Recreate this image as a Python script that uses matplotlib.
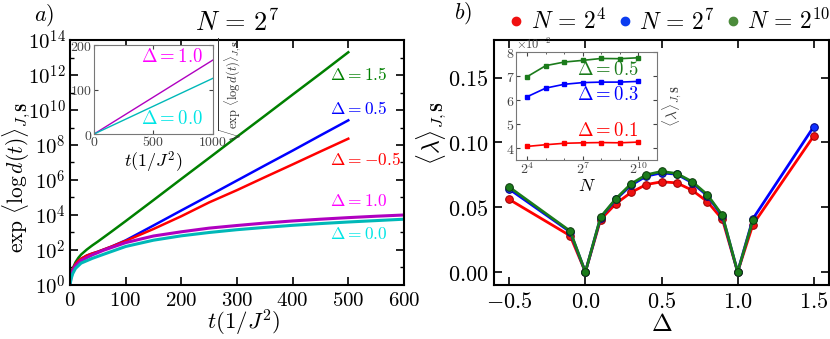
import numpy as np
import matplotlib
matplotlib.use("Agg")
import matplotlib.pyplot as plt
from matplotlib.ticker import FuncFormatter, FixedLocator
from matplotlib.lines import Line2D

plt.rcParams['mathtext.fontset'] = 'cm'
plt.rcParams['font.family'] = 'serif'
plt.rcParams['font.serif'] = ['DejaVu Serif']

# ---------------- panel a) : exp<log d(t)> , N = 2^7  (values are log10)
t_fast = [0, 2, 5, 10, 15, 20, 30, 40, 50, 75, 100, 150, 200, 250, 300, 350, 400, 450, 500]
logd_15 = [0, 0.55, 0.95, 1.3, 1.55, 1.74, 2.02, 2.26, 2.48, 3.06, 3.65, 4.85, 6.06, 7.26, 8.47, 9.67, 10.88, 12.08, 13.3]
logd_05 = [0, 0.5, 0.9, 1.2, 1.38, 1.5, 1.68, 1.8, 1.9, 2.2, 2.55, 3.4, 4.26, 5.11, 5.97, 6.83, 7.68, 8.55, 9.41]
logd_m05 = [0, 0.5, 0.9, 1.2, 1.38, 1.5, 1.68, 1.8, 1.9, 2.2, 2.52, 3.2, 3.93, 4.72, 5.42, 6.16, 6.89, 7.63, 8.36]

t_slow = [0, 2, 5, 10, 20, 40, 60, 100, 150, 200, 250, 300, 350, 400, 450, 500, 550, 600]
logd_10 = [0, 0.45, 0.8, 1.1, 1.4, 1.72, 1.98, 2.42, 2.8, 3.04, 3.25, 3.4, 3.54, 3.66, 3.76, 3.85, 3.93, 4.0]
logd_00 = [0, 0.35, 0.65, 0.95, 1.25, 1.52, 1.75, 2.2, 2.56, 2.81, 3.0, 3.16, 3.29, 3.41, 3.51, 3.6, 3.68, 3.76]

# inset a): sqrt(exp<log d>) vs t
t_inset = [0, 1000]
sq_10 = [0, 166]
sq_00 = [0, 125]

# ---------------- panel b) : <lambda> vs Delta
delta = [-0.5, -0.1, 0.0, 0.1, 0.2, 0.3, 0.4, 0.5, 0.6, 0.7, 0.8, 0.9, 1.0, 1.1, 1.5]
lam_n4 = [0.056, 0.028, 0.0, 0.0405, 0.0527, 0.0614, 0.0675, 0.0696, 0.0688, 0.0632, 0.0544, 0.0406, 0.0, 0.0365, 0.105]
lam_n7 = [0.064, 0.031, 0.0, 0.042, 0.056, 0.067, 0.074, 0.0765, 0.0755, 0.069, 0.059, 0.043, 0.0, 0.041, 0.1122]
lam_n10 = [0.0655, 0.0316, 0.0, 0.0424, 0.0565, 0.068, 0.075, 0.0776, 0.076, 0.0698, 0.0598, 0.0437, 0.0, 0.040]

# inset b): <lambda> vs N  (units of 1e-2)
N_inset = [2**4, 2**5, 2**6, 2**7, 2**8, 2**9, 2**10]
lamN_05 = [6.99, 7.45, 7.6, 7.67, 7.75, 7.74, 7.78]
lamN_03 = [6.15, 6.51, 6.67, 6.74, 6.76, 6.76, 6.79]
lamN_01 = [4.07, 4.14, 4.2, 4.22, 4.23, 4.22, 4.25]

purple = '#b000c0'
cyan = '#00b8b8'
dgreen = '#1b7b1b'

fig = plt.figure(figsize=(8.3, 3.39), dpi=100)

def mt(fmt):
    return FuncFormatter(lambda v, p: ('$' + fmt + '$') % v)

def style_main(ax, size):
    for s in ax.spines.values():
        s.set_linewidth(1.5)
    ax.tick_params(which='both', direction='in', top=True, right=True, labelsize=size, pad=4)
    ax.tick_params(which='major', length=6, width=1.2)
    ax.tick_params(which='minor', length=3, width=1.0)

# ---- a)
ax1 = fig.add_axes([0.0843, 0.1593, 0.4024, 0.7227])
ax1.plot(t_fast, 10**np.array(logd_15), color='green', lw=1.8)
ax1.plot(t_fast, 10**np.array(logd_05), color='blue', lw=1.8)
ax1.plot(t_fast, 10**np.array(logd_m05), color='red', lw=1.8)
ax1.plot(t_slow, 10**np.array(logd_10), color=purple, lw=2.2)
ax1.plot(t_slow, 10**np.array(logd_00), color=cyan, lw=2.2)
ax1.set_yscale('log')
ax1.set_xlim(0, 600)
ax1.set_ylim(1, 1e14)
ax1.yaxis.set_major_locator(FixedLocator([10.0**k for k in range(0, 15, 2)]))
ax1.yaxis.set_minor_locator(FixedLocator([10.0**k for k in range(1, 14, 2)]))
ax1.yaxis.set_major_formatter(FuncFormatter(lambda v, p: r'$10^{%d}$' % round(np.log10(v))))
ax1.yaxis.set_minor_formatter(FuncFormatter(lambda v, p: ''))
ax1.set_xticks([0, 100, 200, 300, 400, 500, 600])
ax1.xaxis.set_major_formatter(mt('%d'))
style_main(ax1, 15)
ax1.tick_params(axis='y', pad=3)
ax1.set_xlabel(r'$t(1/J^2)$', fontsize=16.5)
ax1.xaxis.set_label_coords(0.52, -0.093)
ax1.set_ylabel(r'$\exp\,\langle\log d(t)\rangle_{J,\mathbf{S}}$', fontsize=15.5)
ax1.yaxis.set_label_coords(-0.115, 0.44)
ax1.text(0.5, 1.07, r'$N\,=\,2^7$', transform=ax1.transAxes, ha='center', va='center', fontsize=19)
lab_a = [(r'$\Delta=1.5$', 12.0, 'green'), (r'$\Delta=0.5$', 10.05, 'blue'),
         (r'$\Delta=-0.5$', 7.1, 'red'), (r'$\Delta=1.0$', 4.75, '#ff00ff'),
         (r'$\Delta=0.0$', 2.87, '#00e5e5')]
for s, ly, c in lab_a:
    ax1.text(468, 10**ly, s, color=c, fontsize=12.5, ha='left', va='center')

# inset a)
ia = fig.add_axes([0.1133, 0.6047, 0.143, 0.2625])
ia.plot(t_inset, sq_10, color=purple, lw=1.0)
ia.plot(t_inset, sq_00, color=cyan, lw=1.0)
ia.set_xlim(0, 1000)
ia.set_ylim(0, 200)
ia.set_xticks([0, 500, 1000])
ia.set_yticks([0, 100, 200])
ia.xaxis.set_major_formatter(mt('%d'))
ia.yaxis.set_major_formatter(mt('%d'))
for s in ia.spines.values():
    s.set_color('#777777')
    s.set_linewidth(0.8)
ia.tick_params(direction='in', top=True, right=True, labelsize=10, length=3, pad=1,
               colors='#444444')
ia.set_xlabel(r'$t(1/J^2)$', fontsize=13, labelpad=0)
ia.yaxis.set_label_position('right')
ia.set_ylabel(r'$\sqrt{\exp\,\langle\log d(t)\rangle_{J,\mathbf{S}}}$', fontsize=9, color='#333333', labelpad=3)
ia.text(0.92, 0.87, r'$\Delta=1.0$', color='#ff00ff', fontsize=13.5, ha='right', va='center', transform=ia.transAxes)
ia.text(0.92, 0.165, r'$\Delta=0.0$', color='#00e5e5', fontsize=13.5, ha='right', va='center', transform=ia.transAxes)

fig.text(0.053, 0.955, r'$a)$', fontsize=16, ha='center', va='center')

# ---- b)
ax2 = fig.add_axes([0.5952, 0.1593, 0.4036, 0.7227])
ax2.plot(delta, lam_n4, color='red', lw=2.0, marker='o', ms=5.5, mfc='#ee1111', mec='#990000', mew=0.7)
ax2.plot(delta, lam_n7, color='blue', lw=2.0, marker='o', ms=5.5, mfc='#1030ff', mec='#000080', mew=0.7)
ax2.plot(delta[:-1], lam_n10, color=dgreen, lw=2.0, marker='o', ms=5.5, mfc=dgreen, mec='#0b3b0b', mew=0.7)
ax2.set_xlim(-0.6, 1.6)
ax2.set_ylim(-0.01, 0.179)
ax2.set_xticks([-0.5, 0.0, 0.5, 1.0, 1.5])
ax2.set_yticks([0.0, 0.05, 0.10, 0.15])
ax2.xaxis.set_major_formatter(mt('%.1f'))
ax2.yaxis.set_major_formatter(mt('%.2f'))
style_main(ax2, 16)
ax2.set_xlabel(r'$\Delta$', fontsize=18)
ax2.xaxis.set_label_coords(0.5, -0.115)
ax2.set_ylabel(r'$\langle\lambda\rangle_{J,\mathbf{S}}$', fontsize=17)
ax2.yaxis.set_label_coords(-0.135, 0.62)
handles = [Line2D([], [], ls='none', marker='o', ms=6, color=c, mec=c)
           for c in ['#f01010', '#0b3cf0', '#4b8b3b']]
ax2.legend(handles, [r'$N\,=\,2^4$', r'$N\,=\,2^7$', r'$N\,=\,2^{10}$'], loc='center',
           bbox_to_anchor=(0.525, 1.075), ncol=3, frameon=False, fontsize=17,
           handlelength=0.6, handletextpad=0.3, columnspacing=0.5, borderaxespad=0)

# inset b)
ib = fig.add_axes([0.6217, 0.528, 0.1699, 0.3186])
ib.plot(N_inset, lamN_05, color=dgreen, lw=1.2, marker='s', ms=3)
ib.plot(N_inset, lamN_03, color='blue', lw=1.2, marker='s', ms=3)
ib.plot(N_inset, lamN_01, color='red', lw=1.2, marker='s', ms=3)
ib.set_xscale('log', base=2)
ib.set_xlim(10.5, 2048)
ib.set_ylim(3.5, 8.02)
ib.xaxis.set_major_locator(FixedLocator([2**4, 2**7, 2**10]))
ib.xaxis.set_minor_locator(FixedLocator([2**5, 2**6, 2**8, 2**9]))
ib.xaxis.set_major_formatter(FuncFormatter(lambda v, p: r'$2^{%d}$' % round(np.log2(v))))
ib.xaxis.set_minor_formatter(FuncFormatter(lambda v, p: ''))
ib.set_yticks([4, 5, 6, 7, 8])
ib.yaxis.set_major_formatter(mt('%d'))
for s in ib.spines.values():
    s.set_color('#777777')
    s.set_linewidth(0.8)
ib.tick_params(which='both', direction='in', top=True, right=True, labelsize=10, pad=1,
               colors='#444444')
ib.tick_params(which='major', length=3)
ib.tick_params(which='minor', length=1.5)
ib.text(0.0, 1.0, r'$\times10^{-2}$', transform=ib.transAxes, fontsize=9, color='#444444',
        ha='left', va='bottom')
ib.set_xlabel(r'$N$', fontsize=13, labelpad=0)
ib.yaxis.set_label_position('right')
ib.set_ylabel(r'$\langle\lambda\rangle_{J,\mathbf{S}}$', fontsize=11, color='#444444', labelpad=3)
ib.text(2**10, 7.27, r'$\Delta=0.5$', color=dgreen, fontsize=13.5, ha='right', va='center')
ib.text(2**10, 6.23, r'$\Delta=0.3$', color='blue', fontsize=13.5, ha='right', va='center')
ib.text(2**10, 4.73, r'$\Delta=0.1$', color='red', fontsize=13.5, ha='right', va='center')

fig.text(0.558, 0.962, r'$b)$', fontsize=16, ha='center', va='center')

fig.savefig('out.png', dpi=100)
